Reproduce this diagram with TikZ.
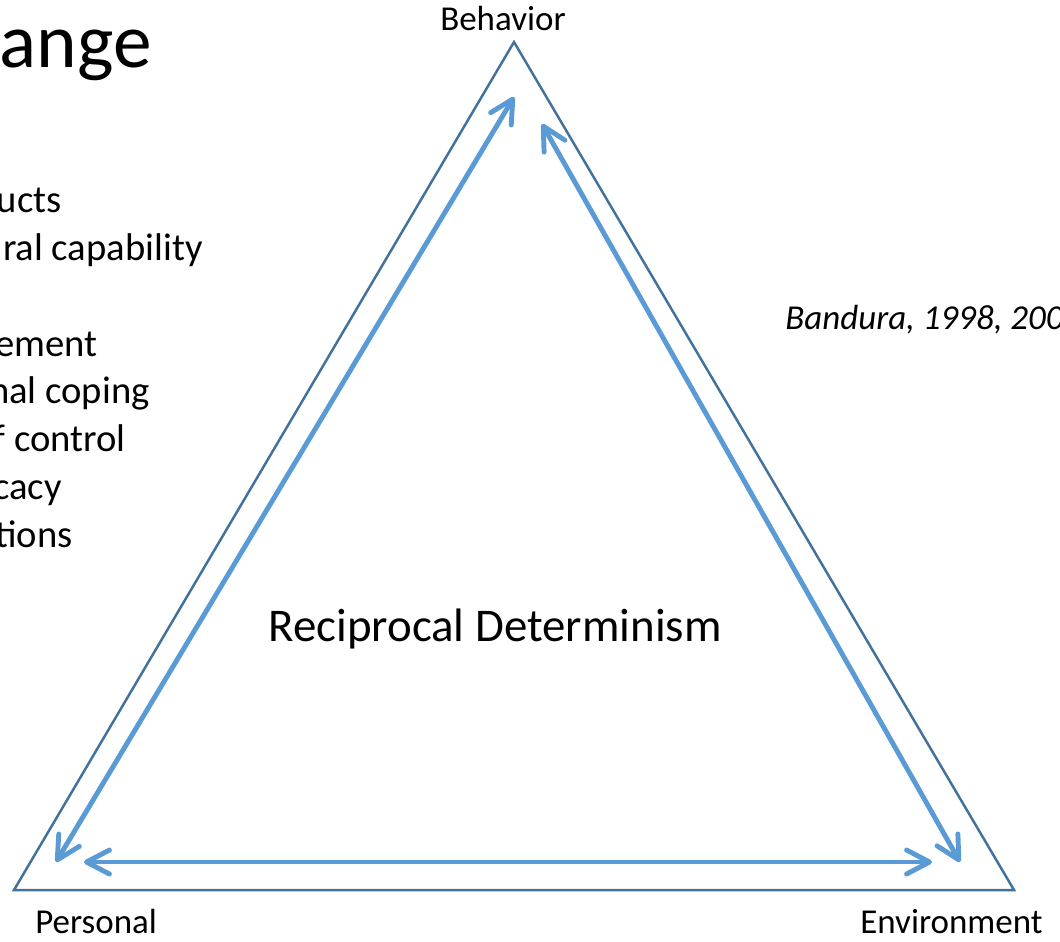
\documentclass[tikz,border=0pt]{standalone}
\usepackage{fontspec}
\setmainfont{Carlito}
\usetikzlibrary{arrows.meta}
\definecolor{edge}{RGB}{65,113,156}
\definecolor{flow}{RGB}{91,155,213}

\begin{document}
\begin{tikzpicture}[x=0.02cm,y=-0.02cm]
  \tikzset{corner/.style={inner sep=0pt,font=\fontsize{19.9}{24}\selectfont}}
  \tikzset{bullet/.style={inner sep=0pt,anchor=base east,font=\fontsize{22}{26}\selectfont}}
  \tikzset{side/.style={draw=edge,line width=1.4pt,line join=miter}}
  \tikzset{arrow/.style={draw=flow,line width=2.8pt,line cap=round,
    {Straight Barb[round,length=4.6mm,width=4.8mm]}-{Straight Barb[round,length=4.6mm,width=4.8mm]}}}

  \useasboundingbox (0,0) rectangle (1060,941);
  \clip (0,0) rectangle (1060,941);

  % slide text cut off at the left
  \node[inner sep=0pt,anchor=base east,font=\fontsize{44}{52}\selectfont] (title) at (152,67) {ange};
  \foreach \txt/\xr/\yb [count=\i] in {ucts/62/212, ral capability/203/260, ement/98/356,
      nal coping/150/403, f control/126/451, cacy/62/499, tions/73/547}
    \node[bullet] (item\i) at (\xr,\yb) {\txt};

  % triangle
  \coordinate (top) at (514,42);
  \coordinate (left) at (14,890);
  \coordinate (right) at (1014,890);
  \draw[side] (top) -- (left) -- (right) -- cycle;

  \node[corner,anchor=base] (behavior) at (503,30) {Behavior};
  \node[corner,anchor=base west] (personal) at (35,933) {Personal};
  \node[corner,anchor=base west] (environment) at (860,933) {Environment};
  \node[inner sep=0pt,anchor=base] (center) at (495,641) {\fontsize{26.7}{32}\selectfont Reciprocal Determinism};
  \node[corner,anchor=base west,font=\fontsize{19.9}{24}\selectfont\itshape] (source) at (785,329) {Bandura, 1998, 200};

  % two-way influences
  \coordinate (pb) at (514,97);
  \coordinate (bp) at (56,862);
  \coordinate (be) at (542,124);
  \coordinate (eb) at (960,862);
  \coordinate (pe) at (84,862);
  \coordinate (ep) at (932,862);

  \draw[arrow] (bp) -- (pb);
  \draw[arrow] (be) -- (eb);
  \draw[arrow] (pe) -- (ep);

\end{tikzpicture}
\end{document}
